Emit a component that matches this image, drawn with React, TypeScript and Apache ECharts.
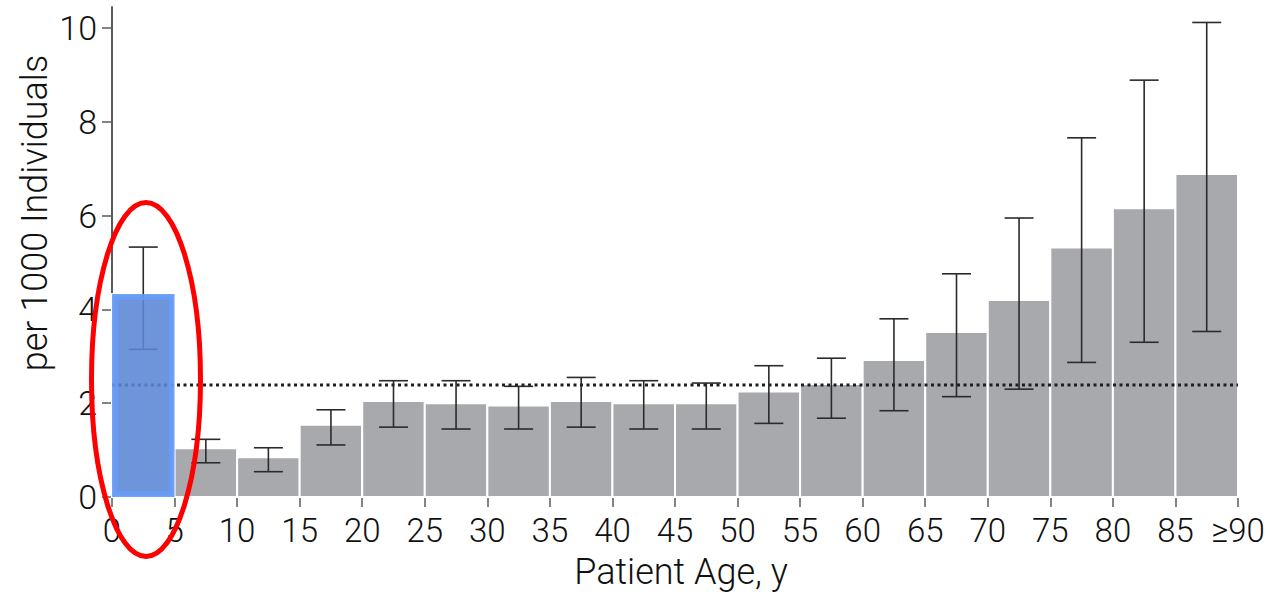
import React, { useEffect, useRef } from "react";
import * as echarts from "echarts";

// ---- data ----
const binStart = [0, 5, 10, 15, 20, 25, 30, 35, 40, 45, 50, 55, 60, 65, 70, 75, 80, 85];
const binWidth = 5;
const rates = [4.33, 1.04, 0.85, 1.54, 2.05, 2.0, 1.95, 2.05, 2.0, 2.0, 2.25, 2.41, 2.92, 3.52, 4.2, 5.32, 6.16, 6.89];
const ciLow = [3.15, 0.73, 0.54, 1.11, 1.49, 1.45, 1.45, 1.49, 1.45, 1.45, 1.57, 1.68, 1.84, 2.14, 2.3, 2.87, 3.3, 3.53];
const ciHigh = [5.33, 1.23, 1.05, 1.86, 2.48, 2.48, 2.36, 2.55, 2.48, 2.43, 2.8, 2.96, 3.8, 4.76, 5.95, 7.66, 8.89, 10.12];
const overallRate = 2.39;
const highlightIndex = 0;
const yTickValues = [0, 2, 4, 6, 8, 10];
const xLastLabel = "≥90";
const xTitle = "Patient Age, y";
const yTitle = "per 1000 Individuals";

const FONT = "Roboto, 'Liberation Sans', sans-serif";
const WEIGHT = 300;
const TEXT = "#111111";
const AXIS = "#5a5a5a";

export default function App() {
  const ref = useRef<HTMLDivElement>(null);
  useEffect(() => {
    if (!ref.current) return;
    const chart = echarts.init(ref.current, null, { renderer: "svg" });

    const barData = binStart.map((s, i) => [s, s + binWidth, rates[i]]);
    const errData = binStart.map((s, i) => [s + binWidth / 2, ciLow[i], ciHigh[i]]);
    const hiData = [barData[highlightIndex]];
    const xMax = binStart[binStart.length - 1] + binWidth;

    const option: any = {
      animation: false,
      grid: { left: 112, right: 32, top: 7, bottom: 106, containLabel: false },
      xAxis: {
        type: "value",
        min: 0,
        max: xMax,
        interval: 5,
        name: xTitle,
        nameLocation: "middle",
        nameGap: 57,
        nameTextStyle: { fontFamily: FONT, fontWeight: WEIGHT, fontSize: 36, color: TEXT, padding: [0, 0, 0, 12] },
        axisLine: { show: true, lineStyle: { color: AXIS, width: 2 } },
        axisTick: { show: true, length: 10, lineStyle: { color: AXIS, width: 1.5 } },
        axisLabel: {
          fontFamily: FONT,
          fontWeight: WEIGHT,
          fontSize: 33,
          color: TEXT,
          margin: 17,
          showMinLabel: true,
          showMaxLabel: true,
          formatter: (v: number) => (v === xMax ? xLastLabel : String(v)),
        },
        splitLine: { show: false },
      },
      yAxis: {
        type: "value",
        min: 0,
        max: 10.45,
        axisLine: { show: true, lineStyle: { color: AXIS, width: 2 } },
        axisTick: { show: true, length: 10, customValues: yTickValues, lineStyle: { color: AXIS, width: 1.5 } },
        axisLabel: { customValues: yTickValues, fontFamily: FONT, fontWeight: WEIGHT, fontSize: 34, color: TEXT, margin: 15 },
        splitLine: { show: false },
      },
      graphic: [
        {
          type: "text",
          x: 35,
          y: 213,
          rotation: Math.PI / 2,
          style: {
            text: yTitle,
            fontFamily: FONT,
            fontWeight: WEIGHT,
            fontSize: 36,
            fill: TEXT,
            align: "center",
            verticalAlign: "middle",
          },
        },
        {
          type: "ellipse",
          z: 100,
          shape: { cx: 146, cy: 379.5, rx: 54.5, ry: 177 },
          style: { fill: "none", stroke: "#ff0000", lineWidth: 5 },
        },
      ],
      series: [
        {
          type: "custom",
          z: 1,
          data: barData,
          renderItem: (params: any, api: any) => {
            const p0 = api.coord([api.value(0), 0]);
            const p1 = api.coord([api.value(1), api.value(2)]);
            return {
              type: "rect",
              shape: { x: p0[0], y: p1[1], width: p1[0] - p0[0], height: p0[1] - p1[1] },
              style: { fill: "#a8a9ad", stroke: "#ffffff", lineWidth: 2 },
            };
          },
        },
        {
          type: "line",
          z: 2,
          data: [[0, overallRate], [xMax, overallRate]],
          symbol: "none",
          lineStyle: { color: "#1e1e1e", width: 3, type: [3, 3.5] },
        },
        {
          type: "custom",
          z: 3,
          data: errData,
          renderItem: (params: any, api: any) => {
            const lo = api.coord([api.value(0), api.value(1)]);
            const hi = api.coord([api.value(0), api.value(2)]);
            const cap = 14.5;
            const st = { stroke: "#2b2b2b", lineWidth: 1.6 };
            return {
              type: "group",
              children: [
                { type: "line", shape: { x1: lo[0], y1: lo[1], x2: hi[0], y2: hi[1] }, style: st },
                { type: "line", shape: { x1: lo[0] - cap, y1: lo[1], x2: lo[0] + cap, y2: lo[1] }, style: st },
                { type: "line", shape: { x1: hi[0] - cap, y1: hi[1], x2: hi[0] + cap, y2: hi[1] }, style: st },
              ],
            };
          },
        },
        {
          type: "custom",
          z: 4,
          data: hiData,
          renderItem: (params: any, api: any) => {
            const p0 = api.coord([api.value(0), 0]);
            const p1 = api.coord([api.value(1), api.value(2)]);
            const inset = 3;
            return {
              type: "rect",
              shape: {
                x: p0[0] + inset,
                y: p1[1] + inset,
                width: p1[0] - p0[0] - 2 * inset,
                height: p0[1] - p1[1] - 2 * inset,
              },
              style: {
                fill: "rgba(98,143,228,0.82)",
                stroke: "rgba(100,155,250,0.9)",
                lineWidth: 6,
              },
            };
          },
        },
      ],
    };
    chart.setOption(option);
    return () => chart.dispose();
  }, []);

  return (
    <div
      ref={ref}
      style={{ position: "fixed", left: 0, top: 0, width: 1270, height: 603, background: "#ffffff" }}
    />
  );
}
